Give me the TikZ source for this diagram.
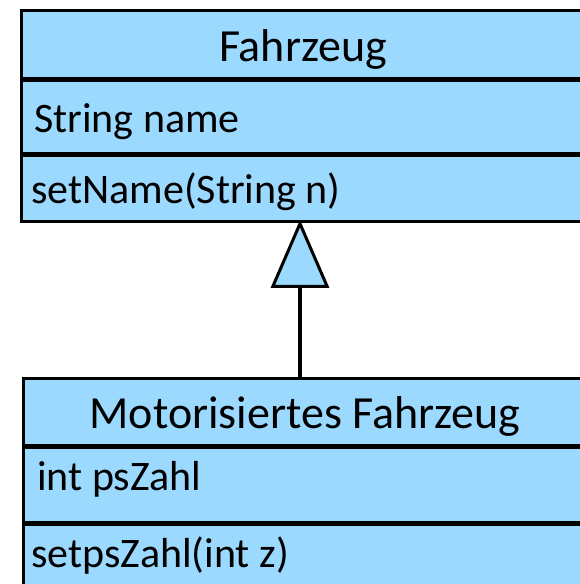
\documentclass[tikz,border=0pt]{standalone}
\usepackage{fontspec}
\setmainfont{Carlito}
\usetikzlibrary{arrows.meta,calc}
\definecolor{clsblue}{RGB}{155,217,255}
\tikzset{
  compart/.style={draw=black, fill=clsblue, line width=2.6pt, inner sep=0pt,
    minimum width=570pt, anchor=north west},
  titletext/.style={font=\fontsize{46}{50}\selectfont, inner sep=0pt, anchor=base},
  membertext/.style={font=\fontsize{42}{46}\selectfont, inner sep=0pt, anchor=base west},
  inherit/.style={draw=black, line width=3.6pt,
    -{Triangle[open, length=68pt, width=58pt, fill=clsblue, line width=3pt]}},
}
\begin{document}
\begin{tikzpicture}[x=1pt,y=-1pt]
\useasboundingbox (0,0) rectangle (580,584);

% class Fahrzeug
\node[compart, minimum height=68pt] (fz-head) at (20,9) {};
\node[compart, minimum height=72pt] (fz-attr) at (fz-head.south west) {};
\node[compart, minimum height=66pt] (fz-meth) at (fz-attr.south west) {};
\node[titletext] (fz-title) at (303,61) {Fahrzeug};
\node[membertext] (fz-name) at (34,132) {String name};
\node[membertext] (fz-set) at (31,203) {setName(String n)};

% class Motorisiertes Fahrzeug
\node[compart, minimum height=67pt] (mf-head) at (22,377) {};
\node[compart, minimum height=74pt] (mf-attr) at (mf-head.south west) {};
\node[compart, minimum height=70pt] (mf-meth) at (mf-attr.south west) {};
\node[titletext] (mf-title) at (305,428) {Motorisiertes Fahrzeug};
\node[membertext] (mf-ps) at (37,490) {int psZahl};
\node[membertext] (mf-set) at (31,567) {setpsZahl(int z)};

% generalisation
\coordinate (gen-from) at ($(mf-head.north west)+(278,0)$);
\coordinate (gen-to) at ($(fz-meth.south west)+(280,-3)$);
\draw[inherit] (gen-from) -- (gen-to);
\end{tikzpicture}
\end{document}
